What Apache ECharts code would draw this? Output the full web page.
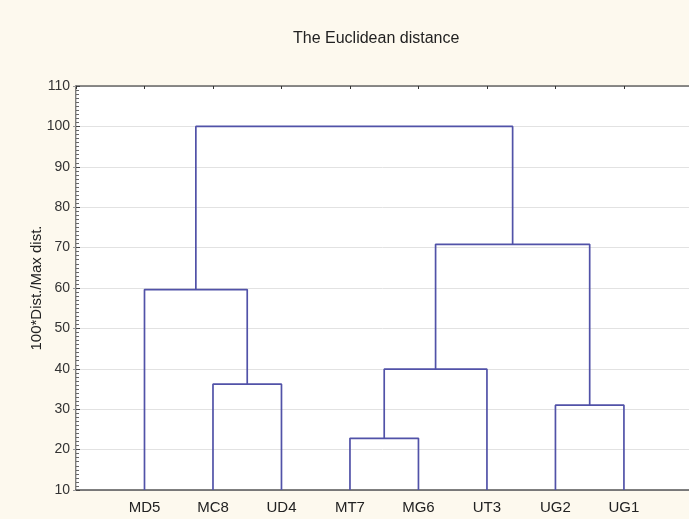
<!DOCTYPE html>
<html>
<head>
<meta charset="utf-8">
<script src="https://cdn.jsdelivr.net/npm/echarts@6/dist/echarts.min.js"></script>
<style>
html,body{margin:0;padding:0;background:#fdf9ee;}
#c{width:689px;height:519px;}
</style>
</head>
<body>
<div id="c"></div>
<script>
var leaves = ['MD5', 'MC8', 'UD4', 'MT7', 'MG6', 'UT3', 'UG2', 'UG1'];
var mergeLeft = ['MT7', 'UG2', 'MC8', 'C0', 'MD5', 'C3', 'C4'];
var mergeRight = ['MG6', 'UG1', 'UD4', 'UT3', 'C2', 'C1', 'C5'];
var mergeHeight = [22.8, 31.0, 36.2, 39.9, 59.6, 70.8, 100];
var yTicks = [10, 20, 30, 40, 50, 60, 70, 80, 90, 100, 110];

var Y_MIN = yTicks[0], Y_MAX = yTicks[yTicks.length - 1];
var nodeX = {}, nodeY = {};
leaves.forEach(function (n, i) { nodeX[n] = i + 1; nodeY[n] = Y_MIN; });
var series = [];
mergeLeft.forEach(function (l, k) {
  var r = mergeRight[k], h = mergeHeight[k];
  series.push({
    type: 'line', symbol: 'none', animation: false, silent: true,
    lineStyle: { color: '#5152a8', width: 1.7 },
    data: [[nodeX[l], nodeY[l]], [nodeX[l], h], [nodeX[r], h], [nodeX[r], nodeY[r]]]
  });
  nodeX['C' + k] = (nodeX[l] + nodeX[r]) / 2;
  nodeY['C' + k] = h;
});

var chart = echarts.init(document.getElementById('c'), null, { renderer: 'canvas' });
chart.setOption({
  backgroundColor: '#fdf9ee',
  title: {
    text: 'The Euclidean distance', left: 288, top: 26,
    textStyle: { fontFamily: 'Liberation Sans', fontSize: 16, fontWeight: 'normal', color: '#222' }
  },
  grid: { left: 76, right: 0, top: 86, bottom: 29, show: true, backgroundColor: '#ffffff', borderWidth: 0 },
  xAxis: [{
    type: 'value', min: 0, max: 8.95, interval: 1, position: 'bottom',
    axisLine: { show: true, lineStyle: { color: '#555', width: 1.5 } },
    axisTick: { show: false },
    splitLine: { show: false },
    axisLabel: {
      margin: 10, fontFamily: 'Liberation Sans', fontSize: 15, color: '#222',
      formatter: function (v) { return leaves[Math.round(v) - 1] || ''; },
      showMinLabel: false, showMaxLabel: false
    }
  }, {
    type: 'value', min: 0, max: 8.95, interval: 1, position: 'top',
    axisLine: { show: true, lineStyle: { color: '#666', width: 1.5 } },
    axisTick: { show: true, inside: true, length: 3, lineStyle: { color: '#333' } },
    splitLine: { show: false },
    axisLabel: { show: false }
  }],
  yAxis: [{
    type: 'value', min: Y_MIN, max: Y_MAX, interval: 10,
    name: '100*Dist./Max dist.', nameLocation: 'middle', nameGap: 32, nameMoveOverlap: false,
    nameTextStyle: { fontFamily: 'Liberation Sans', fontSize: 15, color: '#222' },
    axisLine: { show: true, lineStyle: { color: '#555', width: 1.5 } },
    axisTick: { show: true, inside: true, length: 4, lineStyle: { color: '#444' } },
    minorTick: { show: true, splitNumber: 10, length: 3, lineStyle: { color: '#666' } },
    splitLine: { show: true, lineStyle: { color: '#e2e2e2', width: 1 } },
    axisLabel: {
      margin: 6, fontFamily: 'Liberation Sans', fontSize: 14, color: '#333',
      formatter: function (v) { return yTicks.indexOf(v) >= 0 ? String(v) : ''; }
    }
  }, {
    type: 'value', min: Y_MIN, max: Y_MAX, interval: 10, position: 'right',
    axisLine: { show: true, lineStyle: { color: '#ccc', width: 1 } },
    axisTick: { show: true, inside: true, length: 3, lineStyle: { color: '#999' } },
    splitLine: { show: false },
    axisLabel: { show: false }
  }],
  series: series
});
</script>
</body>
</html>
